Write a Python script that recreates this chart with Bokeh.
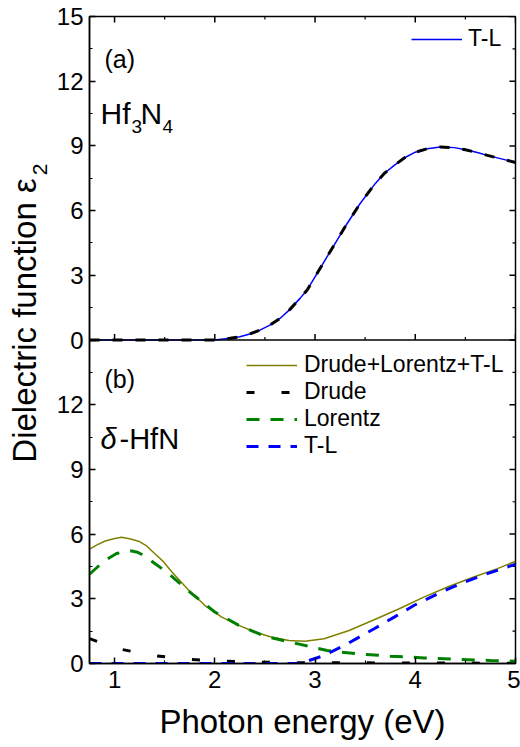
from math import pi
from bokeh.plotting import figure
from bokeh.layouts import row
from bokeh.models import (Range1d, LinearAxis, FixedTicker, Span, Label,
                          Legend, LegendItem)
from bokeh.embed import file_html
from bokeh.resources import INLINE

# ---------------- data ----------------
x_ticks = [1, 2, 3, 4, 5]
x_minor_ticks = [1.5, 2.5, 3.5, 4.5]
y_ticks_top = [0, 3, 6, 9, 12, 15]
y_ticks_bottom = [0, 3, 6, 9, 12]
y_minor_step = 1.5

# (a) Hf3N4 : experiment (black dashed) and T-L fit (blue)
hf3n4_energy = [0.75, 1.0, 1.5, 2.0, 2.15, 2.25, 2.35, 2.45, 2.55, 2.65, 2.75,
                2.85, 2.92, 3.0, 3.15, 3.3, 3.45, 3.6, 3.69, 3.79, 3.89, 3.99,
                4.12, 4.25, 4.39, 4.49, 4.62, 4.72, 4.85, 5.0]
hf3n4_exp = [0.0, 0.0, 0.0, 0.0, 0.08, 0.15, 0.28, 0.46, 0.69, 1.0, 1.42,
             1.93, 2.31, 2.93, 4.09, 5.25, 6.33, 7.25, 7.72, 8.10, 8.44, 8.69,
             8.87, 8.95, 8.92, 8.83, 8.69, 8.56, 8.41, 8.23]
hf3n4_tl = [0.0, 0.0, 0.0, 0.0, 0.08, 0.15, 0.28, 0.46, 0.69, 1.0, 1.42,
            1.93, 2.31, 2.93, 4.09, 5.25, 6.33, 7.25, 7.72, 8.10, 8.44, 8.69,
            8.87, 8.95, 8.92, 8.83, 8.69, 8.56, 8.41, 8.23]

# (b) delta-HfN
hfn_total_energy = [0.75, 0.82, 0.90, 0.99, 1.07, 1.15, 1.24, 1.32, 1.40, 1.49,
                    1.57, 1.74, 1.90, 2.07, 2.24, 2.40, 2.57, 2.74, 2.90, 3.09,
                    3.34, 3.59, 3.84, 4.09, 4.34, 4.59, 4.82, 5.0]
hfn_total = [5.30, 5.49, 5.67, 5.78, 5.85, 5.78, 5.67, 5.45, 5.10, 4.71,
             4.25, 3.40, 2.70, 2.15, 1.77, 1.46, 1.22, 1.07, 1.03, 1.15,
             1.53, 2.03, 2.54, 3.09, 3.58, 4.02, 4.40, 4.74]

hfn_drude_energy = [0.75, 1.04, 1.39, 1.74, 2.10, 2.45, 2.80, 3.5, 4.0, 4.5, 5.0]
hfn_drude = [1.15, 0.68, 0.37, 0.19, 0.11, 0.06, 0.04, 0.03, 0.02, 0.02, 0.01]

hfn_lorentz_energy = [0.75, 0.85, 0.93, 1.02, 1.10, 1.17, 1.23, 1.30, 1.54, 1.77,
                      2.0, 2.24, 2.50, 2.83, 3.12, 3.42, 3.75, 4.09, 4.42, 4.75, 5.0]
hfn_lorentz = [4.14, 4.56, 4.85, 5.10, 5.19, 5.22, 5.16, 4.98, 4.17, 3.24,
               2.39, 1.77, 1.26, 0.91, 0.60, 0.45, 0.34, 0.26, 0.19, 0.14, 0.11]

hfn_tl_energy = [0.75, 1.5, 2.0, 2.5, 2.85, 3.09, 3.34, 3.59, 3.79, 3.99,
                 4.24, 4.47, 4.72, 5.0]
hfn_tl = [0.0, 0.0, 0.0, 0.0, 0.0, 0.37, 0.96, 1.61, 2.15, 2.70,
          3.27, 3.74, 4.17, 4.60]

# ---------------- layout constants (page pixels) ----------------
W, H = 520, 747
LBL_W = 52                      # strip holding the rotated y title
FL, FR, FT, FB = 89, 515, 16, 663
X0, X1 = 0.75, 5.0
SPAN = 15.0                     # y extent of each panel
FONT = "Liberation Sans"

p = figure(width=W - LBL_W, height=H, x_range=Range1d(X0, X1),
           y_range=Range1d(0, 2 * SPAN),
           output_backend="svg", toolbar_location=None,
           x_axis_type=None, y_axis_type=None,
           min_border_left=FL - LBL_W, min_border_right=W - FR,
           min_border_top=FT, min_border_bottom=H - FB)
p.extra_y_ranges = {"top": Range1d(-SPAN, SPAN)}
p.outline_line_color = "black"
p.outline_line_width = 1.5
p.background_fill_color = "white"
p.border_fill_color = "white"


def px2x(px):
    return X0 + (px - FL) * (X1 - X0) / (FR - FL)


def py2y(py):
    return (FB - py) * (2 * SPAN) / (FB - FT)


def style_axis(ax):
    ax.axis_line_width = 1.5
    ax.major_tick_in = 6
    ax.major_tick_out = 0
    ax.minor_tick_in = 3
    ax.minor_tick_out = 0
    ax.major_tick_line_width = 1.5
    ax.minor_tick_line_width = 1.2
    ax.major_label_text_font = FONT
    ax.major_label_text_font_size = "24px"
    ax.major_label_text_color = "black"


xb = LinearAxis(ticker=FixedTicker(ticks=x_ticks, minor_ticks=x_minor_ticks),
                axis_label="Photon energy (eV)",
                major_label_overrides={t: str(t) for t in x_ticks})
style_axis(xb)
xb.major_label_standoff = 7
xb.axis_label_standoff = 12
xb.axis_label_text_font = FONT
xb.axis_label_text_font_size = "33px"
xb.axis_label_text_font_style = "normal"
xb.axis_label_text_color = "black"
p.add_layout(xb, "below")

# left axis: lower panel ticks, then upper panel ticks shifted by one panel
left_ticks = [float(t) for t in y_ticks_bottom] + [t + SPAN for t in y_ticks_top]
left_labels = {float(t): str(t) for t in y_ticks_bottom}
left_labels.update({t + SPAN: str(t) for t in y_ticks_top})
n_minor = int(round(SPAN / y_minor_step))
left_minor = [y_minor_step * (2 * i + 1) for i in range(n_minor)]
yl = LinearAxis(ticker=FixedTicker(ticks=left_ticks, minor_ticks=left_minor),
                major_label_overrides=left_labels)
style_axis(yl)
yl.major_label_standoff = 6
p.add_layout(yl, "left")


# inward ticks on the top and right frame edges and on the panel boundary
def tick_rays(xs, ys, length, angle, width):
    p.ray(x=xs, y=ys, length=length, length_units="screen", angle=angle,
          line_color="black", line_width=width)


tick_rays(x_ticks, [2 * SPAN] * len(x_ticks), 6, -pi / 2, 1.5)
tick_rays(x_minor_ticks, [2 * SPAN] * len(x_minor_ticks), 3, -pi / 2, 1.2)
tick_rays([X1] * len(left_ticks), left_ticks, 6, pi, 1.5)
tick_rays([X1] * len(left_minor), left_minor, 3, pi, 1.2)
tick_rays(x_ticks, [SPAN] * len(x_ticks), 6, pi / 2, 1.5)
tick_rays(x_minor_ticks, [SPAN] * len(x_minor_ticks), 3, pi / 2, 1.2)
p.add_layout(Span(location=SPAN, dimension="width", line_color="black", line_width=1.5))

# ---------------- panel (a) ----------------
r_a_tl = p.line(hf3n4_energy, hf3n4_tl, y_range_name="top",
                line_color="#0000ff", line_width=1.5)
p.line(hf3n4_energy, hf3n4_exp, y_range_name="top",
       line_color="black", line_width=3, line_dash="10 13")

# ---------------- panel (b) ----------------
r_tot = p.line(hfn_total_energy, hfn_total, line_color="#808000", line_width=1.5)
r_dru = p.line(hfn_drude_energy, hfn_drude, line_color="black", line_width=3,
               line_dash="8 27")
r_lor = p.line(hfn_lorentz_energy, hfn_lorentz, line_color="#008000", line_width=3,
               line_dash="13 11")
r_tl = p.line(hfn_tl_energy, hfn_tl, line_color="#0000ff", line_width=3,
              line_dash="12 10")


def make_legend(items, loc, standoff):
    return Legend(items=items, location=loc, label_text_font=FONT,
                  label_text_font_size="23px", label_text_color="black",
                  glyph_width=51, glyph_height=26, label_height=26,
                  label_standoff=standoff, spacing=0, padding=5, margin=0,
                  border_line_color=None, background_fill_alpha=0)


leg_a = make_legend([LegendItem(label="T-L", renderers=[r_a_tl])],
                    (411 - FL, FB - 52), 6)
leg_b = make_legend([LegendItem(label="Drude+Lorentz+T-L", renderers=[r_tot]),
                     LegendItem(label="Drude", renderers=[r_dru]),
                     LegendItem(label="Lorentz", renderers=[r_lor]),
                     LegendItem(label="T-L", renderers=[r_tl])],
                    (246 - FL, FB - 459), 7)
p.add_layout(leg_a)
p.add_layout(leg_b)


# ---------------- texts inside the panels ----------------
def add_text(txt, px, py, size, style="normal"):
    p.add_layout(Label(x=px2x(px), y=py2y(py), text=txt, text_font=FONT,
                       text_font_size=f"{size}px", text_font_style=style,
                       text_color="black", text_align="left",
                       text_baseline="alphabetic"))


add_text("(a)", 104, 58, 25)
add_text("Hf", 100, 113, 30)
add_text("3", 131, 126, 19)
add_text("N", 140, 113, 30)
add_text("4", 162, 126, 19)

add_text("(b)", 104, 378, 25)
add_text("δ", 100, 438, 29, style="italic")
add_text("-HfN", 119, 438, 29)

# ---------------- rotated y title in its own strip ----------------
# the row aligns this strip's frame with the main frame (FT..FB), so its
# y range is given in page pixels counted from the bottom of the page
t = figure(width=LBL_W, height=H, x_range=Range1d(0, LBL_W),
           y_range=Range1d(H - FB, H - FT),
           output_backend="svg", toolbar_location=None,
           x_axis_type=None, y_axis_type=None, min_border=0,
           min_border_left=0, min_border_right=0, min_border_top=0, min_border_bottom=0)
t.outline_line_color = None
t.background_fill_color = "white"
t.border_fill_color = "white"
t.add_layout(Label(x=24, y=H - 320, text="Dielectric function ε", angle=pi / 2,
                   text_font=FONT, text_font_size="33px", text_color="black",
                   text_align="center", text_baseline="middle"))
t.add_layout(Label(x=39, y=H - 169, text="2", angle=pi / 2,
                   text_font=FONT, text_font_size="21px", text_color="black",
                   text_align="center", text_baseline="middle"))

layout = row(t, p)
open("out.html", "w").write(file_html(layout, INLINE))
